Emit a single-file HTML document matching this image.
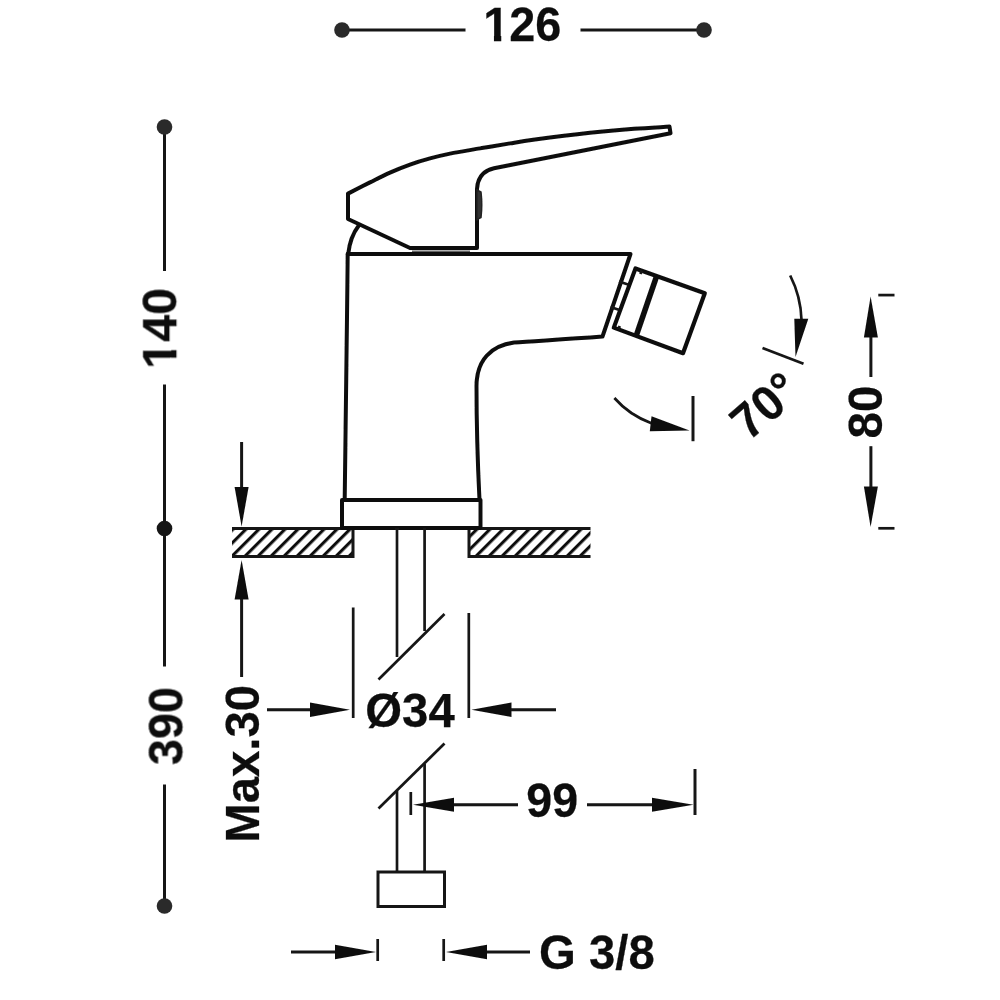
<!DOCTYPE html>
<html>
<head>
<meta charset="utf-8">
<title>Technical drawing</title>
<style>
html,body{margin:0;padding:0;background:#fff;}
body{width:1000px;height:1000px;overflow:hidden;font-family:"Liberation Sans",sans-serif;}
svg{display:block;}
text{font-family:"Liberation Sans",sans-serif;font-weight:bold;font-size:47.3px;fill:#111;stroke:#111;stroke-width:0.25;}
.o{fill:none;stroke:#111;stroke-width:4;stroke-linejoin:round;stroke-linecap:round;}
.m{fill:none;stroke:#151515;stroke-width:3;stroke-linecap:butt;}
.t{fill:none;stroke:#151515;stroke-width:2.7;stroke-linecap:butt;}
.a{fill:#111;stroke:none;}
.d{fill:#2a2a2a;stroke:none;}
</style>
</head>
<body>
<svg width="1000" height="1000" viewBox="0 0 1000 1000">
<defs>
<pattern id="h" width="9.2" height="9.2" patternUnits="userSpaceOnUse" patternTransform="translate(232,528) rotate(45)">
<rect x="0" y="0" width="3.1" height="9.2" fill="#111"/>
</pattern>
<pattern id="h2" width="9.2" height="9.2" patternUnits="userSpaceOnUse" patternTransform="translate(228.8,528) rotate(45)">
<rect x="0" y="0" width="3.1" height="9.2" fill="#111"/>
</pattern>
<filter id="bl" x="-2%" y="-2%" width="104%" height="104%"><feGaussianBlur stdDeviation="0.45"/></filter>
</defs>
<rect width="1000" height="1000" fill="#fff"/>
<g filter="url(#bl)">

<!-- top dimension 126 -->
<g id="dim126">
<line class="m" x1="342" y1="30" x2="465.5" y2="30"/>
<line class="m" x1="580.5" y1="30" x2="704" y2="30"/>
<circle class="d" cx="342" cy="30" r="7.8"/>
<circle class="d" cx="704" cy="30" r="7.8"/>
<g transform="translate(522.3,41.3) scale(0.99,1.01)"><text text-anchor="middle">126</text><rect x="-39.2" y="-6" width="10.55" height="9" fill="#fff"/><rect x="-21.25" y="-6" width="9" height="9" fill="#fff"/></g>
</g>

<!-- left dimension 140 / 390 -->
<g id="dimleft">
<line class="m" x1="164.5" y1="127" x2="164.5" y2="271"/>
<line class="m" x1="164.5" y1="384.5" x2="164.5" y2="528"/>
<line class="m" x1="164.5" y1="528" x2="164.5" y2="666.5"/>
<line class="m" x1="164.5" y1="784.5" x2="164.5" y2="906"/>
<circle class="d" cx="164.5" cy="127" r="7.8"/>
<circle class="d" style="fill:#141414" cx="164.5" cy="528.5" r="7.8"/>
<circle class="d" cx="164.5" cy="906" r="7.8"/>
<g transform="translate(176.6,328.4) rotate(-90) scale(1.024,1.03)"><text text-anchor="middle">140</text><rect x="-39.2" y="-6" width="10.55" height="9" fill="#fff"/><rect x="-21.25" y="-6" width="9" height="9" fill="#fff"/></g>
<text transform="translate(182.9,726) rotate(-90) scale(0.99,1.033)" text-anchor="middle">390</text>
</g>

<!-- Max.30 -->
<g id="max30">
<line class="m" x1="241.6" y1="442" x2="241.6" y2="490"/>
<polygon class="a" points="241.6,526.5 234.6,487 248.6,487"/>
<line class="m" x1="241.6" y1="596" x2="241.6" y2="677"/>
<polygon class="a" points="241.6,560 234.6,599.5 248.6,599.5"/>
<text transform="translate(259.3,763.8) rotate(-90) scale(1,1.015)" text-anchor="middle">Max.30</text>
</g>

<!-- hatch / countertop -->
<g id="hatch">
<rect x="232" y="528.5" width="121" height="28" fill="url(#h)"/>
<rect x="469" y="528.5" width="121.5" height="28" fill="url(#h2)"/>
<path class="m" d="M232,528.5 H353 V556.5 H232"/>
<path class="m" d="M590.5,528.5 H469 V556.5 H590.5"/>
</g>

<!-- faucet handle -->
<g id="handle">
<path class="o" d="M348.0,193.6 C351.7,191.7 363.0,185.9 370.0,182.4 C377.0,178.9 383.3,175.6 390.0,172.6 C396.7,169.6 403.3,167.0 410.0,164.6 C416.7,162.2 423.3,160.2 430.0,158.4 C436.7,156.6 441.7,155.3 450.0,153.6 C458.3,151.9 470.0,150.1 480.0,148.4 C490.0,146.7 500.8,144.9 510.0,143.4 C519.2,141.9 521.7,141.4 535.0,139.6 C548.3,137.8 573.5,134.6 590.0,132.8 C606.5,131.0 620.8,129.8 634.0,128.8 C647.2,127.8 663.6,127.0 669.5,126.6 L670.5,133.2 L494,168.2 C484,170.5 477.5,177 477,189 L477,248 L410,248 L348,219 Z"/>
<path d="M477,190 L481,192 Q482.5,205 481,217.5 L477,219.5 Z" fill="#333" stroke="#222" stroke-width="1.5"/>
<path class="o" d="M348.2,254 C349.5,242 353,233 358.8,225.5"/>
<line x1="412" y1="251.2" x2="470" y2="251.2" stroke="#666" stroke-width="1.4"/>
</g>

<!-- faucet body -->
<g id="body">
<path class="o" d="M347.7,254 L630.5,254 L602.5,336.5 C560,339.8 532,341 514,342.6 C491,345.8 476.6,360 476.5,386 C476.5,430 478,470 479.5,500"/>
<path class="o" d="M347.7,254 C346.8,340 345.5,440 344.7,500"/>
<path class="o" d="M342,500 H480.5 V528 H342 Z"/>
<path class="t" d="M619,281.5 L628,284.5"/>
<path class="t" d="M610.5,307 L619.5,310"/>
</g>

<!-- aerator -->
<g id="aerator">
<path class="o" style="stroke-width:4.2" d="M635.5,268.4 L704.8,293.2 L683,353.2 L613.8,327.6 Z"/>
<path class="o" style="stroke-width:5.6;stroke-linecap:butt" d="M656.8,275.6 L636,336.4"/>
<path class="t" d="M641.6,270.6 L640.4,274"/>
<path class="t" d="M618.5,329.3 L619.7,326"/>
</g>

<!-- angle arcs -->
<g id="angle">
<path class="t" d="M614.4,398 C624,409 637,418 652,423.5"/>
<polygon class="a" points="689.5,430.5 651.5,416.3 649.8,431.3"/>
<line class="m" x1="693" y1="396" x2="693" y2="441.2"/>
<path class="t" d="M790.2,275.5 C796,287 801,301 801.5,320"/>
<polygon class="a" points="795.5,357 794.3,318.7 808.3,318.7"/>
<line class="t" x1="762.5" y1="348" x2="803.5" y2="363.7"/>
<text transform="translate(748.8,441.7) rotate(-41) scale(1,1.04)">70°</text>
</g>

<!-- 80 dimension -->
<g id="dim80">
<line class="t" x1="878.3" y1="295.1" x2="894.5" y2="295.1"/>
<line class="t" x1="878.3" y1="528.3" x2="894.5" y2="528.3"/>
<line class="m" x1="870.9" y1="334" x2="870.9" y2="377"/>
<polygon class="a" points="870.6,296.5 863.9,337.6 877.9,337.6"/>
<line class="m" x1="870.9" y1="446.2" x2="870.9" y2="490"/>
<polygon class="a" points="870.6,527 863.9,486.6 877.9,486.6"/>
<text transform="translate(882.4,412) rotate(-90) scale(1.005,1.027)" text-anchor="middle">80</text>
</g>

<!-- pipes -->
<g id="pipes">
<line class="t" x1="397" y1="528" x2="397" y2="657"/>
<line class="t" x1="424.6" y1="528" x2="424.6" y2="631"/>
<line class="t" x1="378.5" y1="679.5" x2="444.5" y2="614"/>
<line class="t" x1="378.5" y1="808.5" x2="444.5" y2="743.5"/>
<line class="t" x1="397" y1="791" x2="397" y2="872"/>
<line class="t" x1="424.6" y1="764" x2="424.6" y2="872"/>
<rect class="m" x="378" y="872" width="66.5" height="34.5"/>
</g>

<!-- diameter 34 -->
<g id="dia34">
<line class="t" x1="353.2" y1="607.5" x2="353.2" y2="718"/>
<line class="t" x1="468.8" y1="613" x2="468.8" y2="718"/>
<line class="m" x1="267" y1="709.8" x2="314" y2="709.8"/>
<polygon class="a" points="350,709.8 310,702.6 310,717"/>
<line class="m" x1="507" y1="709.8" x2="556" y2="709.8"/>
<polygon class="a" points="471.5,709.8 511.5,702.6 511.5,717"/>
<text transform="translate(410,726.8) scale(1,1.0)" text-anchor="middle">Ø34</text>
</g>

<!-- 99 -->
<g id="dim99">
<line class="t" x1="410.8" y1="792" x2="410.8" y2="815"/>
<line class="m" x1="695" y1="769" x2="695" y2="815"/>
<line class="m" x1="450" y1="804.8" x2="518" y2="804.8"/>
<polygon class="a" points="413,804.8 454,797.8 454,811.8"/>
<line class="m" x1="587" y1="804.8" x2="656" y2="804.8"/>
<polygon class="a" points="693.5,804.8 652,797.8 652,811.8"/>
<text transform="translate(552.2,817) scale(0.985,1.02)" text-anchor="middle">99</text>
</g>

<!-- G 3/8 -->
<g id="g38">
<line class="t" x1="377.7" y1="939" x2="377.7" y2="961"/>
<line class="t" x1="443.7" y1="939" x2="443.7" y2="961"/>
<line class="m" x1="291" y1="952" x2="339" y2="952"/>
<polygon class="a" points="376,952 335,944.8 335,959.2"/>
<line class="m" x1="483" y1="952" x2="530" y2="952"/>
<polygon class="a" points="446,952 487,944.8 487,959.2"/>
<text transform="translate(539.1,968.8) scale(1,1.03)">G 3/8</text>
</g>
</g>
</svg>
</body>
</html>
